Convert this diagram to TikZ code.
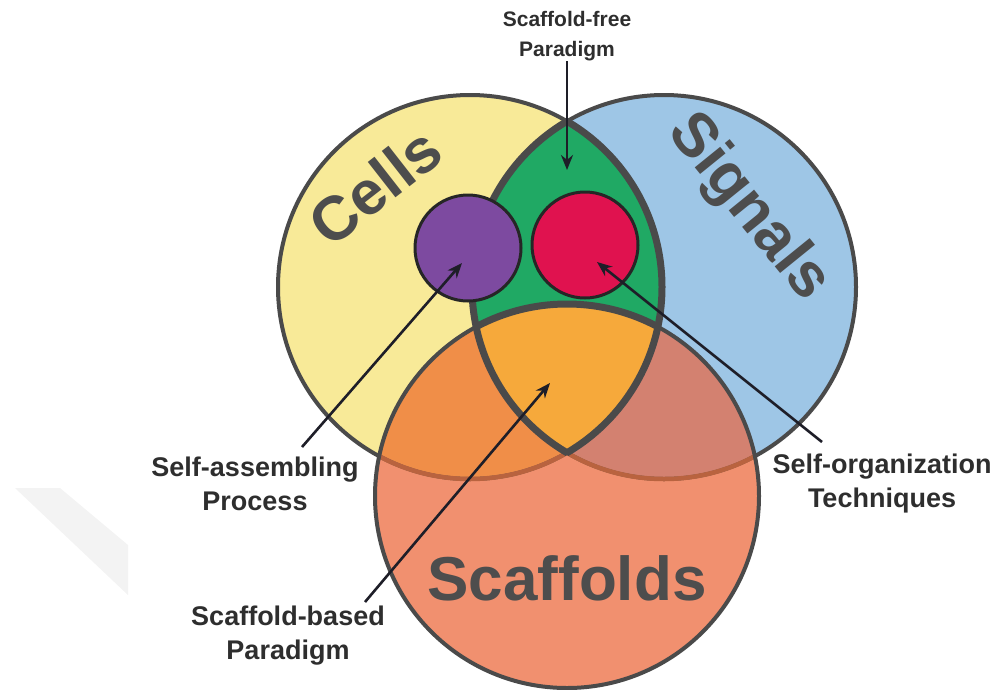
\documentclass[tikz,border=0pt]{standalone}
\usepackage{fontspec}
\setmainfont{Liberation Sans}
\usetikzlibrary{arrows.meta}
\definecolor{cellfill}{HTML}{F8EA98}
\definecolor{signalfill}{HTML}{9EC6E6}
\definecolor{scaffill}{HTML}{F1906F}
\definecolor{cellscaf}{HTML}{F08E48}
\definecolor{signalscaf}{HTML}{D38170}
\definecolor{lensgreen}{HTML}{20A964}
\definecolor{coreorange}{HTML}{F6A93B}
\definecolor{spotpurple}{HTML}{7D4AA0}
\definecolor{spotred}{HTML}{E0124F}
\definecolor{rimgrey}{HTML}{4A4A4A}
\definecolor{innerrim}{HTML}{B9633F}
\definecolor{setink}{HTML}{4D4D4D}
\definecolor{labelink}{HTML}{2E2E2E}
\definecolor{arrowink}{HTML}{1E1E28}
\definecolor{markgrey}{HTML}{F3F3F3}
\tikzset{
  rim/.style={draw=rimgrey, line width=4pt},
  lensrim/.style={draw=rimgrey, line width=7pt},
  spot/.style={draw=black!85, line width=3pt},
  pointer/.style={draw=arrowink, line width=2.6pt, -{Stealth[length=15pt,width=12pt]}},
  tag/.style={font=\fontsize{27}{34}\selectfont\bfseries, text=labelink, align=center, inner sep=0pt},
  setname/.style={font=\fontsize{62}{62}\selectfont\bfseries, text=setink, inner sep=0pt}
}
\begin{document}
\begin{tikzpicture}[x=1pt, y=-1pt]
  \useasboundingbox (0,0) rectangle (1000,689);
  \fill[markgrey] (15,488) -- (60,488) -- (128,545) -- (128,595) -- cycle;
  \coordinate (cells) at (470,287);
  \coordinate (signals) at (664,287);
  \coordinate (scaffolds) at (567,496);
  \fill[cellfill] (cells) circle[radius=192];
  \fill[signalfill] (signals) circle[radius=192];
  \fill[scaffill] (scaffolds) circle[radius=192];
  \begin{scope}
    \clip (cells) circle[radius=192];
    \fill[cellscaf] (scaffolds) circle[radius=192];
  \end{scope}
  \begin{scope}
    \clip (signals) circle[radius=192];
    \fill[signalscaf] (scaffolds) circle[radius=192];
  \end{scope}
  \begin{scope}
    \clip (cells) circle[radius=192];
    \fill[lensgreen] (signals) circle[radius=192];
    \clip (signals) circle[radius=192];
    \fill[coreorange] (scaffolds) circle[radius=192];
  \end{scope}
  \draw[rim] (cells) circle[radius=192];
  \draw[rim] (signals) circle[radius=192];
  \begin{scope}
    \clip (scaffolds) circle[radius=192];
    \draw[draw=innerrim, line width=4.5pt] (cells) circle[radius=192];
    \draw[draw=innerrim, line width=4.5pt] (signals) circle[radius=192];
  \end{scope}
  \draw[rim] (scaffolds) circle[radius=192];
  \begin{scope}
    \clip (signals) circle[radius=194];
    \draw[lensrim] (cells) circle[radius=192];
  \end{scope}
  \begin{scope}
    \clip (cells) circle[radius=194];
    \draw[lensrim] (signals) circle[radius=192];
  \end{scope}
  \begin{scope}
    \clip (cells) circle[radius=192];
    \clip (signals) circle[radius=192];
    \draw[lensrim] (scaffolds) circle[radius=192];
  \end{scope}
  \node[setname, rotate=38] (cellsname) at (375,186) {Cells};
  \node[setname, rotate=-51] (signalsname) at (748,208) {Signals};
  \node[setname, anchor=base] (scafname) at (567,600) {Scaffolds};
  \node[spot, fill=spotpurple, circle, minimum size=106pt] (assembly) at (468,248) {};
  \node[spot, fill=spotred, circle, minimum size=106pt] (organize) at (585,245) {};
  \node[tag, font=\fontsize{21}{30}\selectfont\bfseries] (freelbl) at (567,36) {Scaffold-free\\Paradigm};
  \node[tag] (asmlbl) at (255,484) {Self-assembling\\Process};
  \node[tag] (orglbl) at (882,484) {Self-organization\\Techniques};
  \node[tag] (basedlbl) at (288,636) {Scaffold-based\\Paradigm};
  \coordinate (freetip) at (567,170);
  \coordinate (asmtail) at (302,447);
  \coordinate (asmtip) at (462,263);
  \coordinate (orgtail) at (822,442);
  \coordinate (orgtip) at (597,262);
  \coordinate (basedtail) at (365,602);
  \coordinate (basedtip) at (550,383);
  \draw[pointer] (freelbl.south) -- (freetip);
  \draw[pointer] (asmtail) -- (asmtip);
  \draw[pointer] (orgtail) -- (orgtip);
  \draw[pointer] (basedtail) -- (basedtip);
\end{tikzpicture}
\end{document}
